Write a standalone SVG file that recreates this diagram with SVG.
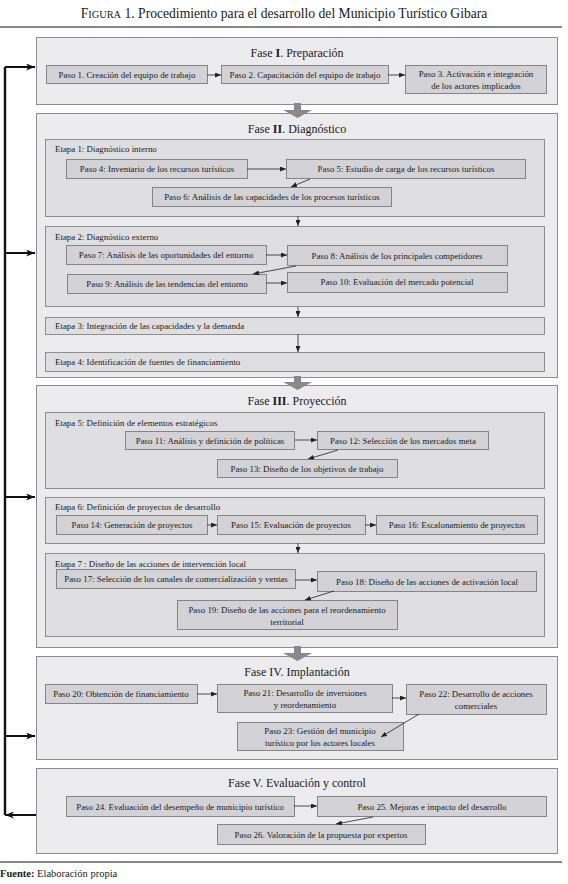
<svg xmlns="http://www.w3.org/2000/svg" width="568" height="884" viewBox="0 0 568 884" font-family="'Liberation Serif', 'Times New Roman', 'DejaVu Serif', serif">
<defs>
<style>
text{font-family:'Liberation Serif','Times New Roman','DejaVu Serif',serif;fill:#1a1a1a}
.t{font-size:8.9px;text-anchor:middle}
.e{font-size:8.9px}
.f{font-size:12px;text-anchor:middle}
.fase{fill:#ececee;stroke:#8e8e8e;stroke-width:1}
.etapa{fill:#dfdfe2;stroke:#8e8e8e;stroke-width:1}
.paso{fill:#d3d3d7;stroke:#858585;stroke-width:1}
.c{stroke:#222;stroke-width:0.8;fill:none;marker-end:url(#a)}
.fb{stroke:#111;stroke-width:2.4;fill:none}
.fba{stroke:#111;stroke-width:2;fill:none;marker-end:url(#b)}
.big{fill:#8a8a8a}
</style>
<marker id="a" markerUnits="userSpaceOnUse" markerWidth="6" markerHeight="5" refX="6" refY="2.5" orient="auto"><path d="M0,0 L6,2.5 L0,5 z" fill="#222"/></marker>
<marker id="b" markerUnits="userSpaceOnUse" markerWidth="9" markerHeight="7" refX="9" refY="3.5" orient="auto"><path d="M0,0 L9,3.5 L0,7 L2.5,3.5 z" fill="#111"/></marker>
</defs>
<rect width="568" height="884" fill="#fff"/>
<g id="title">
<text x="284" y="17.5" style="font-size:13.6px;text-anchor:middle">F<tspan style="font-size:10.4px">IGURA</tspan> 1. Procedimiento para el desarrollo del Municipio Turístico Gibara</text>
<line x1="0" y1="27" x2="562" y2="27" stroke="#111" stroke-width="1"/>
</g>
<g id="fase1">
<rect class="fase" x="36.5" y="37.5" width="521" height="67"/>
<text class="f" x="297" y="57">Fase <tspan font-weight="bold">I</tspan>. Preparación</text>
<g id="paso1"><rect class="paso" x="46.5" y="65.5" width="161" height="18"/><text class="t" x="127" y="77.8">Paso 1. Creación del equipo de trabajo</text></g>
<g id="paso2"><rect class="paso" x="221.5" y="65.5" width="167" height="18"/><text class="t" x="305" y="77.8">Paso 2. Capacitación del equipo de trabajo</text></g>
<g id="paso3"><rect class="paso" x="405.5" y="65.5" width="141" height="28"/><text class="t" x="476" y="76.5">Paso 3. Activación e integración</text><text class="t" x="476" y="88.5">de los actores implicados</text></g>
</g>
<g id="fase2">
<rect class="fase" x="36.5" y="113.5" width="521" height="264"/>
<text class="f" x="297" y="133">Fase <tspan font-weight="bold">II</tspan>. Diagnóstico</text>
<g id="etapa1"><rect class="etapa" x="45.5" y="139.5" width="499" height="77"/><text class="e" x="55" y="152">Etapa 1: Diagnóstico interno</text>
<g id="paso4"><rect class="paso" x="66.5" y="159.5" width="181" height="19"/><text class="t" x="157" y="172.2">Paso 4: Inventario de los recursos turísticos</text></g>
<g id="paso5"><rect class="paso" x="286.5" y="159.5" width="239" height="19"/><text class="t" x="406" y="172.2">Paso 5: Estudio de carga de los recursos turísticos</text></g>
<g id="paso6"><rect class="paso" x="152.5" y="187.5" width="239" height="19"/><text class="t" x="272" y="200.2">Paso 6: Análisis de las capacidades de los procesos turísticos</text></g>
</g>
<g id="etapa2"><rect class="etapa" x="45.5" y="226.5" width="499" height="80"/><text class="e" x="55" y="239.5">Etapa 2: Diagnóstico externo</text>
<g id="paso7"><rect class="paso" x="66.5" y="245.5" width="200" height="19"/><text class="t" x="166" y="258.2">Paso 7: Análisis de las oportunidades del entorno</text></g>
<g id="paso8"><rect class="paso" x="287.5" y="245.5" width="220" height="20"/><text class="t" x="397" y="258.5">Paso 8: Análisis de los principales competidores</text></g>
<g id="paso9"><rect class="paso" x="67.5" y="274.5" width="199" height="19"/><text class="t" x="167" y="287.2">Paso 9: Análisis de las tendencias del entorno</text></g>
<g id="paso10"><rect class="paso" x="287.5" y="272.5" width="220" height="20"/><text class="t" x="397" y="284.5">Paso 10: Evaluación del mercado potencial</text></g>
</g>
<g id="etapa3"><rect class="etapa" x="45.5" y="317.5" width="499" height="17"/><text class="e" x="55" y="329.2">Etapa 3: Integración de las capacidades y la demanda</text></g>
<g id="etapa4"><rect class="etapa" x="45.5" y="352.5" width="499" height="19"/><text class="e" x="55" y="365.2">Etapa 4: Identificación de fuentes de financiamiento</text></g>
</g>
<g id="fase3">
<rect class="fase" x="36.5" y="385.5" width="521" height="262"/>
<text class="f" x="297" y="405">Fase <tspan font-weight="bold">III</tspan>. Proyección</text>
<g id="etapa5"><rect class="etapa" x="45.5" y="412.5" width="499" height="76"/><text class="e" x="55" y="425.5">Etapa 5: Definición de elementos estratégicos</text>
<g id="paso11"><rect class="paso" x="125.5" y="431.5" width="169" height="18"/><text class="t" x="210" y="443.8">Paso 11: Análisis y definición de políticas</text></g>
<g id="paso12"><rect class="paso" x="317.5" y="431.5" width="171" height="18"/><text class="t" x="403" y="443.8">Paso 12: Selección de los mercados meta</text></g>
<g id="paso13"><rect class="paso" x="217.5" y="459.5" width="180" height="18"/><text class="t" x="307" y="471.8">Paso 13: Diseño de los objetivos de trabajo</text></g>
</g>
<g id="etapa6"><rect class="etapa" x="45.5" y="497.5" width="499" height="46"/><text class="e" x="55" y="510">Etapa 6: Definición de proyectos de desarrollo</text>
<g id="paso14"><rect class="paso" x="56.5" y="515.5" width="151" height="19"/><text class="t" x="132" y="528.2">Paso 14: Generación de proyectos</text></g>
<g id="paso15"><rect class="paso" x="217.5" y="515.5" width="148" height="19"/><text class="t" x="291" y="528.2">Paso 15: Evaluación de proyectos</text></g>
<g id="paso16"><rect class="paso" x="376.5" y="515.5" width="161" height="19"/><text class="t" x="457" y="528.2">Paso 16: Escalonamiento de proyectos</text></g>
</g>
<g id="etapa7"><rect class="etapa" x="45.5" y="553.5" width="499" height="83"/><text class="e" x="55" y="566.5">Etapa 7 : Diseño de las acciones de intervención local</text>
<g id="paso17"><rect class="paso" x="56.5" y="569.5" width="239" height="19"/><text class="t" x="176" y="582.2">Paso 17: Selección de los canales de comercialización y ventas</text></g>
<g id="paso18"><rect class="paso" x="317.5" y="571.5" width="219" height="20"/><text class="t" x="427" y="584.5">Paso 18: Diseño de las acciones de activación local</text></g>
<g id="paso19"><rect class="paso" x="177.5" y="600.5" width="220" height="29"/><text class="t" x="287" y="612.5">Paso 19: Diseño de las acciones para el reordenamiento</text><text class="t" x="287" y="624.5">territorial</text></g>
</g>
</g>
<g id="fase4">
<rect class="fase" x="36.5" y="656.5" width="521" height="103"/>
<text class="f" x="297" y="676">Fase IV. Implantación</text>
<g id="paso20"><rect class="paso" x="45.5" y="684.5" width="152" height="19"/><text class="t" x="121" y="697.2">Paso 20: Obtención de financiamiento</text></g>
<g id="paso21"><rect class="paso" x="217.5" y="684.5" width="175" height="28"/><text class="t" x="305" y="695.5">Paso 21: Desarrollo de inversiones</text><text class="t" x="305" y="707.5">y reordenamiento</text></g>
<g id="paso22"><rect class="paso" x="406.5" y="684.5" width="140" height="30"/><text class="t" x="476" y="696.5">Paso 22: Desarrollo de acciones</text><text class="t" x="476" y="708.5">comerciales</text></g>
<g id="paso23"><rect class="paso" x="237.5" y="722.5" width="166" height="28"/><text class="t" x="320" y="733.5">Paso 23: Gestión del municipio</text><text class="t" x="320" y="745.5">turístico por los actores locales</text></g>
</g>
<g id="fase5">
<rect class="fase" x="36.5" y="768.5" width="521" height="85"/>
<text class="f" x="297" y="787">Fase V. Evaluación y control</text>
<g id="paso24"><rect class="paso" x="66.5" y="796.5" width="228" height="20"/><text class="t" x="180" y="809.5">Paso 24. Evaluación del desempeño de municipio turístico</text></g>
<g id="paso25"><rect class="paso" x="317.5" y="796.5" width="229" height="20"/><text class="t" x="432" y="809.5">Paso 25. Mejoras e impacto del desarrollo</text></g>
<g id="paso26"><rect class="paso" x="217.5" y="824.5" width="208" height="20"/><text class="t" x="321" y="837.5">Paso 26. Valoración de la propuesta por expertos</text></g>
</g>
<g id="connectors">
<path class="big" d="M294,103 H301 V110 H312 L297.5,118 L283,110 H294 Z"/>
<path class="big" d="M294,376 H301 V382 H312 L297.5,390 L283,382 H294 Z"/>
<path class="big" d="M294,646 H301 V653 H312 L297.5,661 L283,653 H294 Z"/>
<line class="c" x1="207" y1="75" x2="221" y2="75"/>
<line class="c" x1="388" y1="75" x2="405" y2="75"/>
<line class="c" x1="247" y1="169" x2="286" y2="169"/>
<line class="c" x1="310" y1="179" x2="291" y2="187"/>
<line class="c" x1="298" y1="216" x2="298" y2="226"/>
<line class="c" x1="266" y1="255" x2="287" y2="255"/>
<line class="c" x1="296" y1="266" x2="253" y2="274"/>
<line class="c" x1="266" y1="283" x2="287" y2="283"/>
<line class="c" x1="298" y1="307" x2="298" y2="317"/>
<line class="c" x1="298" y1="334" x2="298" y2="352"/>
<line class="c" x1="295" y1="440" x2="317" y2="440"/>
<line class="c" x1="338" y1="450" x2="308" y2="459"/>
<line class="c" x1="207" y1="525" x2="217" y2="525"/>
<line class="c" x1="365" y1="525" x2="376" y2="525"/>
<line class="c" x1="298" y1="543" x2="298" y2="553"/>
<line class="c" x1="295" y1="580" x2="317" y2="580"/>
<line class="c" x1="334" y1="591" x2="305" y2="600"/>
<line class="c" x1="197" y1="694" x2="217" y2="694"/>
<line class="c" x1="392" y1="698" x2="406" y2="698"/>
<line class="c" x1="419" y1="714" x2="381" y2="737"/>
<line class="c" x1="294" y1="806" x2="317" y2="806"/>
<line class="c" x1="373" y1="817" x2="336" y2="824"/>
<polyline class="fb" points="5,67 5,815"/>
<line class="fba" x1="36" y1="815" x2="5" y2="815"/>
<line class="fba" x1="5" y1="67" x2="35" y2="67"/>
<line class="fba" x1="5" y1="253" x2="35" y2="253"/>
<line class="fba" x1="5" y1="497" x2="35" y2="497"/>
<line class="fba" x1="5" y1="736" x2="35" y2="736"/>
</g>
<g id="footer">
<line x1="0" y1="862" x2="562" y2="862" stroke="#111" stroke-width="1"/>
<text x="0" y="876.5" style="font-size:10.5px"><tspan font-weight="bold">Fuente:</tspan> Elaboración propia</text>
</g>
</svg>
